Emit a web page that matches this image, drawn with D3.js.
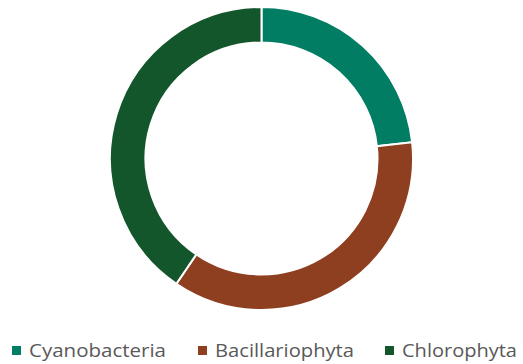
<!DOCTYPE html>
<html>
<head>
<meta charset="utf-8">
<script src="https://cdn.jsdelivr.net/npm/d3@7"></script>
<style>
  body { margin: 0; background: #fff; }
  svg { display: block; }
</style>
</head>
<body>
<svg id="svg"></svg>
<script>
// data
const categories = ['Cyanobacteria', 'Bacillariophyta', 'Chlorophyta']
const values = [23.3, 36.2, 40.5]
const colors = ['#007d63', '#8e3f20', '#13562b']

let width = 523
let height = 364
let svg = d3.select('#svg').attr('width', width).attr('height', height)

// donut
let cx = 261.5, cy = 158.5
let outerR = 151.5, innerR = 116

let pie = d3.pie().sort(null).value(d => d.value)
let arc = d3.arc().innerRadius(innerR).outerRadius(outerR)
let rows = categories.map((c, i) => ({ name: c, value: values[i], color: colors[i] }))

svg.append('g')
  .attr('transform', `translate(${cx},${cy})`)
  .selectAll('path')
  .data(pie(rows))
  .enter()
  .append('path')
  .attr('d', arc)
  .attr('fill', d => d.data.color)
  .attr('stroke', '#fff')
  .attr('stroke-width', 2)

// legend
let legendX = [12, 198, 385]
let textWidths = [137, 139, 115]
let legend = svg.append('g')
rows.forEach((r, i) => {
  legend.append('rect')
    .attr('x', legendX[i]).attr('y', 346)
    .attr('width', 9).attr('height', 9)
    .attr('fill', r.color)
  legend.append('text')
    .attr('x', legendX[i] + 17).attr('y', 356.5)
    .attr('font-family', 'Open Sans, sans-serif')
    .attr('font-size', 19)
    .attr('fill', '#595959')
    .attr('textLength', textWidths[i])
    .attr('lengthAdjust', 'spacingAndGlyphs')
    .text(r.name)
})
</script>
</body>
</html>
